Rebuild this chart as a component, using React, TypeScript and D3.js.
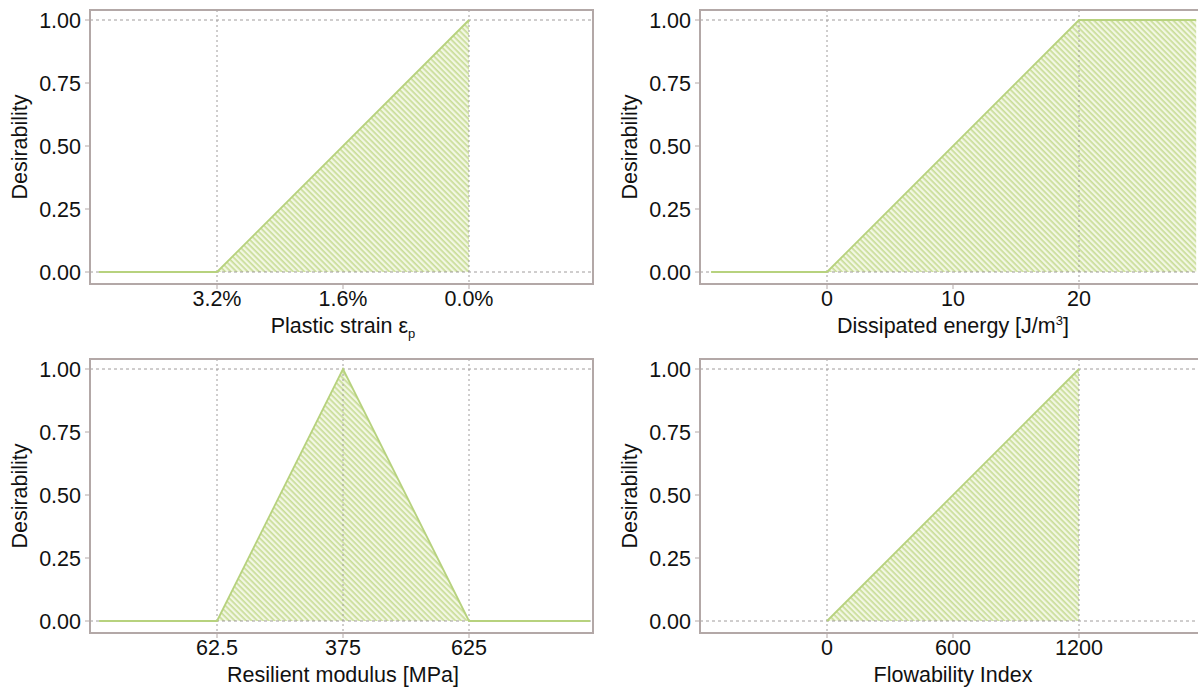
import React from 'react';
import * as d3 from 'd3';

// ---- data ----
const yTicks = [0, 0.25, 0.5, 0.75, 1];

// Panel 1: plastic strain (%), reversed axis
const strainTicks = [3.2, 1.6, 0.0];
const strainX = [4.7, 3.2, 0.0];
const strainY = [0, 0, 1];
const strainGridX = [3.2, 0.0];

// Panel 2: dissipated energy
const energyTicks = [0, 10, 20];
const energyX = [-9.2, 0, 20, 29.3];
const energyY = [0, 0, 1, 1];
const energyGridX = [0, 20];

// Panel 3: resilient modulus (piecewise axis)
const modulusTicks = [62.5, 375, 625];
const modulusX = [-230, 62.5, 375, 625, 865];
const modulusY = [0, 0, 1, 0, 0];
const modulusGridX = [62.5, 375, 625];

// Panel 4: flowability index
const flowTicks = [0, 600, 1200];
const flowX = [0, 1200];
const flowY = [0, 1];
const flowGridX = [0, 1200];

const FONT = '"Liberation Sans", Arial, Helvetica, sans-serif';
const FS = 21.5;
const LINE = '#b7d27e';
const BORDER = '#b3a8a7';
const GRID = '#a09c9c';

type PanelDef = {
  key: string;
  left: number;
  top: number;
  domain: number[];
  ticks: number[];
  fmt: (v: number) => string;
  xs: number[];
  ys: number[];
  grid: number[];
  title: React.ReactNode;
};

const W_PLOT = 503;
const H_PLOT = 274;

function Panel({ p }: { p: PanelDef }) {
  const x0 = p.left;
  const x1 = p.left + W_PLOT;
  const y0 = p.top;
  const y1 = p.top + H_PLOT;
  const tickPos = [x0 + 127, x0 + 253, x0 + 379];
  const x = d3.scaleLinear().domain(p.domain).range(p.domain.length === 2 ? [tickPos[0], tickPos[2]] : tickPos);
  const y = d3.scaleLinear().domain([0, 1]).range([y0 + 262, y0 + 10]);
  const pts: [number, number][] = p.xs.map((v, i) => [v, p.ys[i]]);
  const area = d3
    .area<[number, number]>()
    .x((d) => x(d[0]))
    .y0(y(0))
    .y1((d) => y(d[1]));
  const line = d3
    .line<[number, number]>()
    .x((d) => x(d[0]))
    .y((d) => y(d[1]));
  const yf = d3.format('.2f');
  const clipId = 'clip-' + p.key;
  return (
    <g>
      <defs>
        <clipPath id={clipId}>
          <rect x={x0} y={y0} width={W_PLOT} height={H_PLOT} />
        </clipPath>
      </defs>
      <g clipPath={`url(#${clipId})`}>
        <path d={area(pts) || ''} fill="url(#hatch)" stroke="none" />
        {[0, 1].map((v) => (
          <line key={'h' + v} x1={x0} x2={x1} y1={y(v)} y2={y(v)} stroke={GRID} strokeWidth={1} strokeDasharray="3,3" />
        ))}
        {p.grid.map((v) => (
          <line key={'v' + v} x1={x(v)} x2={x(v)} y1={y0} y2={y1} stroke={GRID} strokeWidth={1} strokeDasharray="2,3" />
        ))}
        <path d={line(pts) || ''} fill="none" stroke={LINE} strokeWidth={1.8} />
      </g>
      <rect x={x0} y={y0} width={W_PLOT} height={H_PLOT} fill="none" stroke={BORDER} strokeWidth={2} />
      {yTicks.map((v) => (
        <g key={'yt' + v}>
          <line x1={x0 - 5} x2={x0} y1={y(v)} y2={y(v)} stroke={BORDER} strokeWidth={1} />
          <text x={x0 - 9} y={y(v) + 7.5} textAnchor="end" fontSize={FS} fontFamily={FONT} fill="#111">
            {yf(v)}
          </text>
        </g>
      ))}
      {p.ticks.map((v) => (
        <g key={'xt' + v}>
          <line x1={x(v)} x2={x(v)} y1={y1} y2={y1 + 5} stroke={BORDER} strokeWidth={1} />
          <text x={x(v)} y={y1 + 22} textAnchor="middle" fontSize={FS} fontFamily={FONT} fill="#111">
            {p.fmt(v)}
          </text>
        </g>
      ))}
      <text
        transform={`translate(${x0 - 63},${(y0 + y1) / 2}) rotate(-90)`}
        textAnchor="middle"
        fontSize={FS}
        fontFamily={FONT}
        fill="#111"
      >
        Desirability
      </text>
      <text x={x(p.ticks[1])} y={y1 + 49} textAnchor="middle" fontSize={FS} fontFamily={FONT} fill="#111">
        {p.title}
      </text>
    </g>
  );
}

export default function App() {
  const panels: PanelDef[] = [
    {
      key: 'strain',
      left: 90,
      top: 10,
      domain: [strainTicks[0], strainTicks[2]],
      ticks: strainTicks,
      fmt: (v) => v.toFixed(1) + '%',
      xs: strainX,
      ys: strainY,
      grid: strainGridX,
      title: (
        <>
          Plastic strain ε
          <tspan fontSize={13} dy={5}>
            p
          </tspan>
        </>
      ),
    },
    {
      key: 'energy',
      left: 700,
      top: 10,
      domain: [energyTicks[0], energyTicks[2]],
      ticks: energyTicks,
      fmt: (v) => String(v),
      xs: energyX,
      ys: energyY,
      grid: energyGridX,
      title: (
        <>
          Dissipated energy [J/m
          <tspan fontSize={13} dy={-8}>
            3
          </tspan>
          <tspan dy={8}>]</tspan>
        </>
      ),
    },
    {
      key: 'modulus',
      left: 90,
      top: 359,
      domain: modulusTicks,
      ticks: modulusTicks,
      fmt: (v) => String(v),
      xs: modulusX,
      ys: modulusY,
      grid: modulusGridX,
      title: <>Resilient modulus [MPa]</>,
    },
    {
      key: 'flow',
      left: 700,
      top: 359,
      domain: [flowTicks[0], flowTicks[2]],
      ticks: flowTicks,
      fmt: (v) => String(v),
      xs: flowX,
      ys: flowY,
      grid: flowGridX,
      title: <>Flowability Index</>,
    },
  ];
  return (
    <svg width={1198} height={687} style={{ position: 'absolute', left: 0, top: 0, background: '#fff' }}>
      <defs>
        <pattern id="hatch" width={4} height={4} patternUnits="userSpaceOnUse" patternTransform="rotate(45)">
          <rect width={4} height={4} fill="#f2f7e3" />
          <rect width={4} height={1.7} fill="#c9dd98" />
        </pattern>
      </defs>
      <rect width={1198} height={687} fill="#fff" />
      {panels.map((p) => (
        <Panel key={p.key} p={p} />
      ))}
    </svg>
  );
}
